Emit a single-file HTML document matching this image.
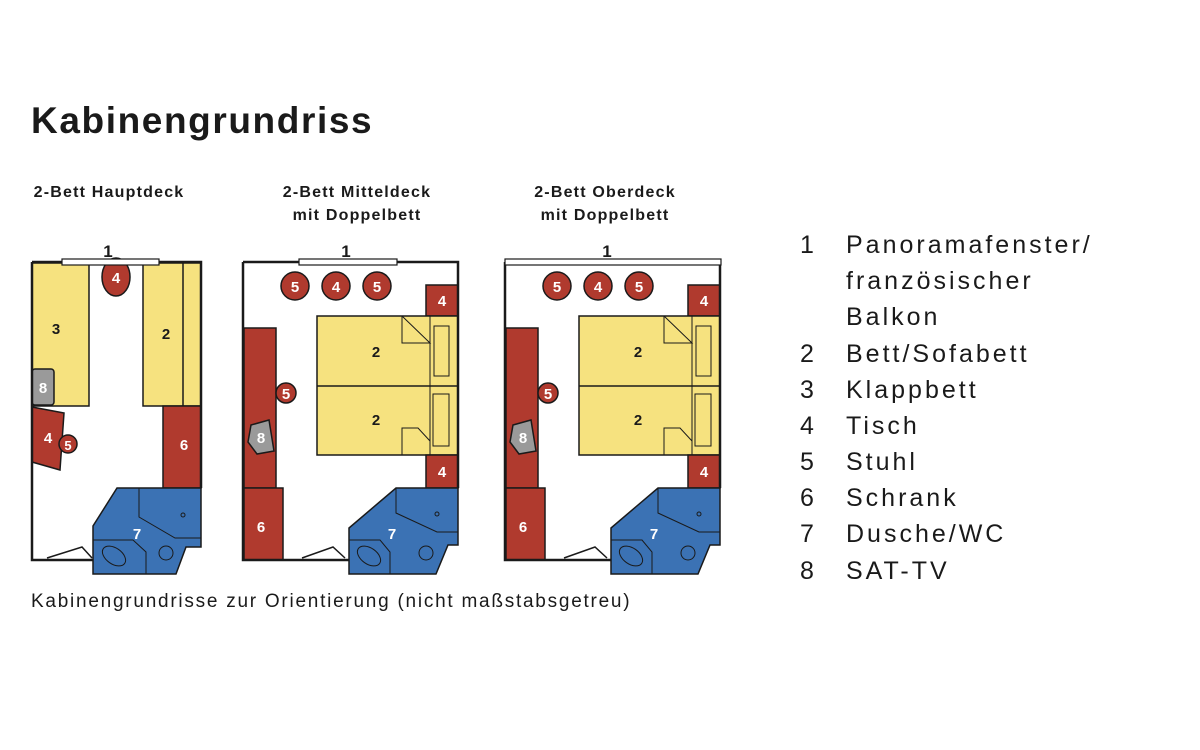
<!DOCTYPE html>
<html><head><meta charset="utf-8"><style>
body{margin:0;background:#fff;}
svg{display:block}
</style></head><body>
<svg width="1200" height="750" viewBox="0 0 1200 750" xmlns="http://www.w3.org/2000/svg" font-family="Liberation Sans, sans-serif">
<text x="31" y="133" font-size="37" font-weight="bold" fill="#1a1a1a" letter-spacing="1.6">Kabinengrundriss</text>
<g font-size="16" font-weight="bold" fill="#1a1a1a" text-anchor="middle" letter-spacing="1.2">
<text x="109" y="197">2-Bett Hauptdeck</text>
<text x="357" y="197">2-Bett Mitteldeck</text>
<text x="357" y="220">mit Doppelbett</text>
<text x="605" y="197">2-Bett Oberdeck</text>
<text x="605" y="220">mit Doppelbett</text>
</g>
<g font-size="17" fill="#1a1a1a" text-anchor="middle" font-weight="bold">
<text x="108" y="257">1</text><text x="346" y="257">1</text><text x="607" y="257">1</text>
</g>

<!-- Plan 1 -->
<g stroke="#1a1a1a" stroke-width="1.5">
<rect x="32" y="263" width="57" height="143" fill="#f6e27f"/>
<rect x="143" y="263" width="58" height="143" fill="#f6e27f"/>
<line x1="183" y1="263" x2="183" y2="406"/>
<ellipse cx="116" cy="277" rx="14" ry="19" fill="#b03a2e"/>
<rect x="32" y="369" width="22" height="36" rx="3" fill="#9a9a9a"/>
<polygon points="32,407 64,413 60,470 32,462" fill="#b03a2e"/>
<circle cx="68" cy="444" r="9" fill="#b03a2e"/>
<rect x="163" y="406" width="38" height="82" fill="#b03a2e"/>
<polygon points="117,488 201,488 201,547 186,547 176,574 93,574 93,526" fill="#3b72b4"/>
<polyline points="47,558 82,547 92,558" fill="none"/>
<polyline points="139,488 139,517 175,538 201,538" fill="none" stroke-width="1"/>
<polyline points="93,540 133,540 146,552 146,574" fill="none" stroke-width="1"/>
<ellipse cx="114" cy="556" rx="13" ry="8" fill="none" transform="rotate(35 114 556)" stroke-width="1"/>
<circle cx="166" cy="553" r="7" fill="none" stroke-width="1"/>
<circle cx="183" cy="515" r="2" fill="none" stroke-width="1"/>
<polyline points="32,262 201,262 201,488" fill="none" stroke-width="2.5"/>
<polyline points="32,262 32,560 93,560" fill="none" stroke-width="2.5"/>
<rect x="62" y="259" width="97" height="6" fill="#fff" stroke-width="1.2"/>
</g>
<g font-size="15" font-weight="bold" text-anchor="middle">
<text x="116" y="283" fill="#fff">4</text>
<text x="56" y="334" fill="#1a1a1a">3</text>
<text x="166" y="339" fill="#1a1a1a">2</text>
<text x="43" y="393" fill="#fff">8</text>
<text x="48" y="443" fill="#fff">4</text>
<text x="68" y="450" fill="#fff" font-size="13">5</text>
<text x="184" y="450" fill="#fff">6</text>
<text x="137" y="539" fill="#fff">7</text>
</g>

<!-- Plan 2 and 3 -->
<g id="p2">
<g stroke="#1a1a1a" stroke-width="1.5">
<circle cx="295" cy="286" r="14" fill="#b03a2e"/>
<circle cx="336" cy="286" r="14" fill="#b03a2e"/>
<circle cx="377" cy="286" r="14" fill="#b03a2e"/>
<rect x="426" y="285" width="32" height="31" fill="#b03a2e"/>
<rect x="317" y="316" width="141" height="139" fill="#f6e27f"/>
<line x1="317" y1="386" x2="458" y2="386"/>
<line x1="430" y1="316" x2="430" y2="455" stroke-width="1"/>
<polyline points="402,316 402,343 430,343 402,316" fill="#f6e27f" stroke-width="1"/>
<polyline points="402,455 402,428 418,428 430,441" fill="none" stroke-width="1"/>
<rect x="434" y="326" width="15" height="50" fill="none" stroke-width="1"/>
<rect x="433" y="394" width="16" height="52" fill="none" stroke-width="1"/>
<rect x="426" y="455" width="32" height="33" fill="#b03a2e"/>
<rect x="244" y="328" width="32" height="160" fill="#b03a2e"/>
<circle cx="286" cy="393" r="10" fill="#b03a2e"/>
<polygon points="251,425 269,420 274,451 257,454 248,442" fill="#9a9a9a"/>
<rect x="244" y="488" width="39" height="72" fill="#b03a2e"/>
<polygon points="396,488 458,488 458,545 448,545 436,574 349,574 349,528" fill="#3b72b4"/>
<polyline points="396,488 396,513 437,532 458,532" fill="none" stroke-width="1"/>
<polyline points="349,540 380,540 390,552 390,574" fill="none" stroke-width="1"/>
<ellipse cx="369" cy="556" rx="13" ry="8" fill="none" transform="rotate(35 369 556)" stroke-width="1"/>
<circle cx="426" cy="553" r="7" fill="none" stroke-width="1"/>
<circle cx="437" cy="514" r="2" fill="none" stroke-width="1"/>
<polyline points="302,558 333,547 345,558" fill="none"/>
<polyline points="243,262 458,262 458,488" fill="none" stroke-width="2.5"/>
<polyline points="243,262 243,560 349,560" fill="none" stroke-width="2.5"/>
</g>
<g font-size="15" font-weight="bold" text-anchor="middle">
<text x="295" y="292" fill="#fff">5</text>
<text x="336" y="292" fill="#fff">4</text>
<text x="377" y="292" fill="#fff">5</text>
<text x="442" y="306" fill="#fff">4</text>
<text x="376" y="357" fill="#1a1a1a">2</text>
<text x="376" y="425" fill="#1a1a1a">2</text>
<text x="286" y="399" fill="#fff">5</text>
<text x="261" y="443" fill="#fff">8</text>
<text x="442" y="477" fill="#fff">4</text>
<text x="261" y="532" fill="#fff">6</text>
<text x="392" y="539" fill="#fff">7</text>
</g>
</g>
<rect x="299" y="259" width="98" height="6" fill="#fff" stroke="#1a1a1a" stroke-width="1.2"/>
<use href="#p2" transform="translate(262 0)"/>
<rect x="505" y="259" width="216" height="6" fill="#fff" stroke="#1a1a1a" stroke-width="1.2"/>

<text x="31" y="607" font-size="19" fill="#1a1a1a" letter-spacing="1.75">Kabinengrundrisse zur Orientierung (nicht maßstabsgetreu)</text>

<g font-size="25" fill="#1a1a1a" letter-spacing="3">
<text x="800" y="253">1</text><text x="846" y="253">Panoramafenster/</text>
<text x="846" y="289">französischer</text>
<text x="846" y="325">Balkon</text>
<text x="800" y="362">2</text><text x="846" y="362">Bett/Sofabett</text>
<text x="800" y="398">3</text><text x="846" y="398">Klappbett</text>
<text x="800" y="434">4</text><text x="846" y="434">Tisch</text>
<text x="800" y="470">5</text><text x="846" y="470">Stuhl</text>
<text x="800" y="506">6</text><text x="846" y="506">Schrank</text>
<text x="800" y="542">7</text><text x="846" y="542">Dusche/WC</text>
<text x="800" y="579">8</text><text x="846" y="579">SAT-TV</text>
</g>
</svg>
</body></html>
